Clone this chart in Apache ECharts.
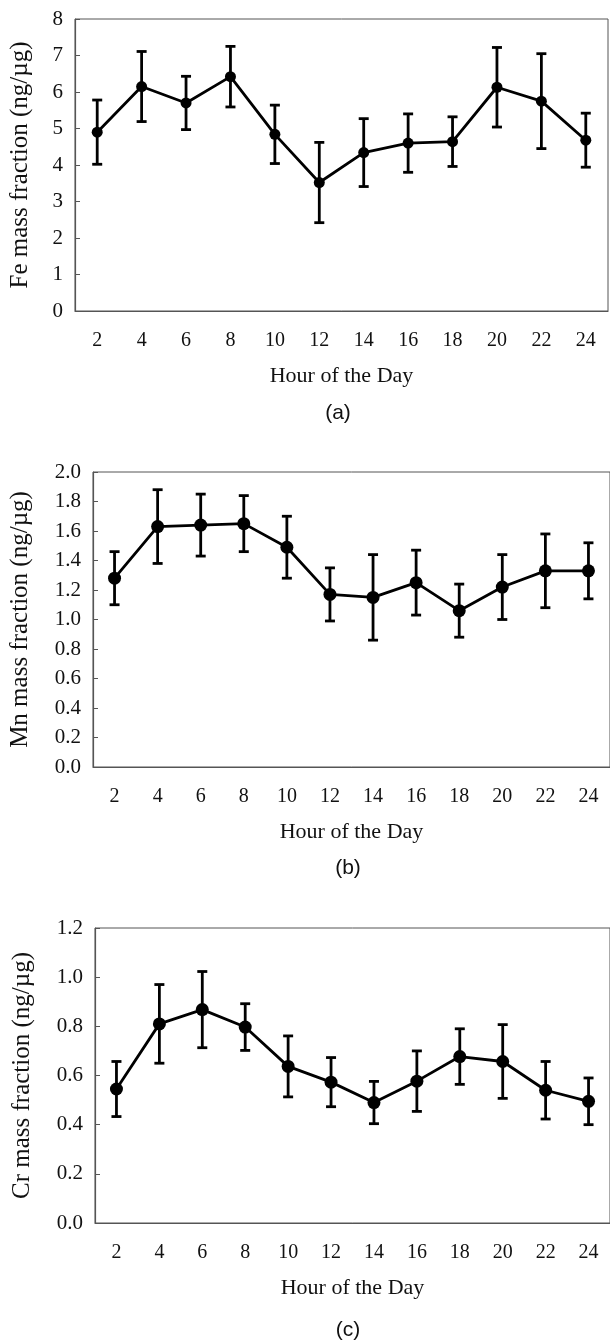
<!DOCTYPE html>
<html lang="en">
<head>
    <meta charset="UTF-8">
    <title>Hourly mass fraction</title>
    <script type="text/javascript" src="https://cdn.jsdelivr.net/npm/echarts@6/dist/echarts.min.js"></script>
    <style>
        html, body { margin: 0; padding: 0; background: #fff; }
        #main { width: 610px; height: 1344px; }
    </style>
</head>
<body>
<div id="main"></div>
<script type="text/javascript">
    var hours = ['2', '4', '6', '8', '10', '12', '14', '16', '18', '20', '22', '24'];

    var feMean = [4.9, 6.15, 5.7, 6.42, 4.84, 3.52, 4.34, 4.6, 4.64, 6.13, 5.75, 4.68];
    var feSd = [0.88, 0.96, 0.73, 0.83, 0.8, 1.1, 0.93, 0.8, 0.68, 1.09, 1.3, 0.74];

    var mnMean = [1.28, 1.63, 1.64, 1.65, 1.49, 1.17, 1.15, 1.25, 1.06, 1.22, 1.33, 1.33];
    var mnSd = [0.18, 0.25, 0.21, 0.19, 0.21, 0.18, 0.29, 0.22, 0.18, 0.22, 0.25, 0.19];

    var crMean = [0.545, 0.81, 0.868, 0.797, 0.637, 0.573, 0.49, 0.577, 0.677, 0.657, 0.54, 0.495];
    var crSd = [0.112, 0.16, 0.155, 0.095, 0.124, 0.1, 0.086, 0.123, 0.113, 0.15, 0.117, 0.095];

    var yNames = ['Fe mass fraction (ng/µg)', 'Mn mass fraction (ng/µg)', 'Cr mass fraction (ng/µg)'];
    var panelTags = ['(a)', '(b)', '(c)'];

    var serif = '"Liberation Serif", "DejaVu Serif", serif';
    var frame = '#555';

    // one grid per panel
    var grids = [
        {left: 75, top: 19, width: 533, height: 292},
        {left: 93, top: 472, width: 523, height: 295},
        {left: 95, top: 928, width: 523, height: 295}
    ];
    var yRanges = [[0, 8, 1, 0], [0, 2, 0.2, 1], [0, 1.2, 0.2, 1]];

    function errRows(mean, sd) {
        return mean.map(function (m, i) { return [i, m - sd[i], m + sd[i]]; });
    }

    function renderErr(params, api) {
        var lo = api.coord([api.value(0), api.value(1)]);
        var hi = api.coord([api.value(0), api.value(2)]);
        var w = 5;
        var st = {stroke: '#000', lineWidth: 2.8};
        return {
            type: 'group',
            children: [
                {type: 'line', shape: {x1: hi[0], y1: hi[1], x2: lo[0], y2: lo[1]}, style: st},
                {type: 'line', shape: {x1: hi[0] - w, y1: hi[1], x2: hi[0] + w, y2: hi[1]}, style: st},
                {type: 'line', shape: {x1: lo[0] - w, y1: lo[1], x2: lo[0] + w, y2: lo[1]}, style: st}
            ]
        };
    }

    var xAxes = [], yAxes = [], series = [], graphics = [];
    var means = [feMean, mnMean, crMean];
    var sds = [feSd, mnSd, crSd];

    for (var i = 0; i < 3; i++) {
        grids[i].show = true;
        grids[i].borderColor = frame;
        grids[i].borderWidth = 1;
        xAxes.push({
            gridIndex: i,
            type: 'category',
            data: hours,
            name: 'Hour of the Day',
            nameLocation: 'middle',
            nameGap: 54,
            nameTextStyle: {fontFamily: serif, fontSize: 22, color: '#111'},
            axisLine: {lineStyle: {color: frame, width: 1.2}},
            axisTick: {inside: true, length: 5, lineStyle: {color: frame}},
            axisLabel: {fontFamily: serif, fontSize: 20, color: '#111', margin: 20},
            splitLine: {show: false}
        });
        yAxes.push({
            gridIndex: i,
            type: 'value',
            min: yRanges[i][0],
            max: yRanges[i][1],
            interval: yRanges[i][2],
            name: yNames[i],
            nameLocation: 'middle',
            nameGap: i === 0 ? 42 : 60,
            nameTextStyle: {fontFamily: serif, fontSize: 25, color: '#111'},
            axisLine: {show: true, lineStyle: {color: frame, width: 1.2}},
            axisTick: {show: true, inside: true, length: 5, lineStyle: {color: frame}},
            axisLabel: {
                fontFamily: serif, fontSize: 21, color: '#111', margin: 12,
                formatter: (function (d) {
                    return function (v) { return v.toFixed(d); };
                })(yRanges[i][3])
            },
            splitLine: {show: false}
        });
        series.push({
            type: 'custom',
            xAxisIndex: i,
            yAxisIndex: i,
            renderItem: renderErr,
            data: errRows(means[i], sds[i]),
            z: 2
        });
        series.push({
            type: 'line',
            xAxisIndex: i,
            yAxisIndex: i,
            data: means[i],
            symbol: 'circle',
            symbolSize: i === 0 ? 11 : 13,
            itemStyle: {color: '#000'},
            lineStyle: {color: '#000', width: 2.8},
            z: 3
        });
    }

    var tagPos = [[338, 413], [348, 868], [348, 1330]];
    for (var k = 0; k < 3; k++) {
        graphics.push({
            type: 'text',
            x: tagPos[k][0],
            y: tagPos[k][1],
            style: {
                text: panelTags[k],
                fontFamily: '"Liberation Sans", Arial, sans-serif',
                fontSize: 21,
                fill: '#111',
                textAlign: 'center',
                textVerticalAlign: 'middle'
            }
        });
    }

    var option = {
        animation: false,
        backgroundColor: '#fff',
        grid: grids,
        xAxis: xAxes,
        yAxis: yAxes,
        series: series,
        graphic: graphics
    };

    var myChart = echarts.init(document.getElementById('main'));
    myChart.setOption(option);
</script>
</body>
</html>
